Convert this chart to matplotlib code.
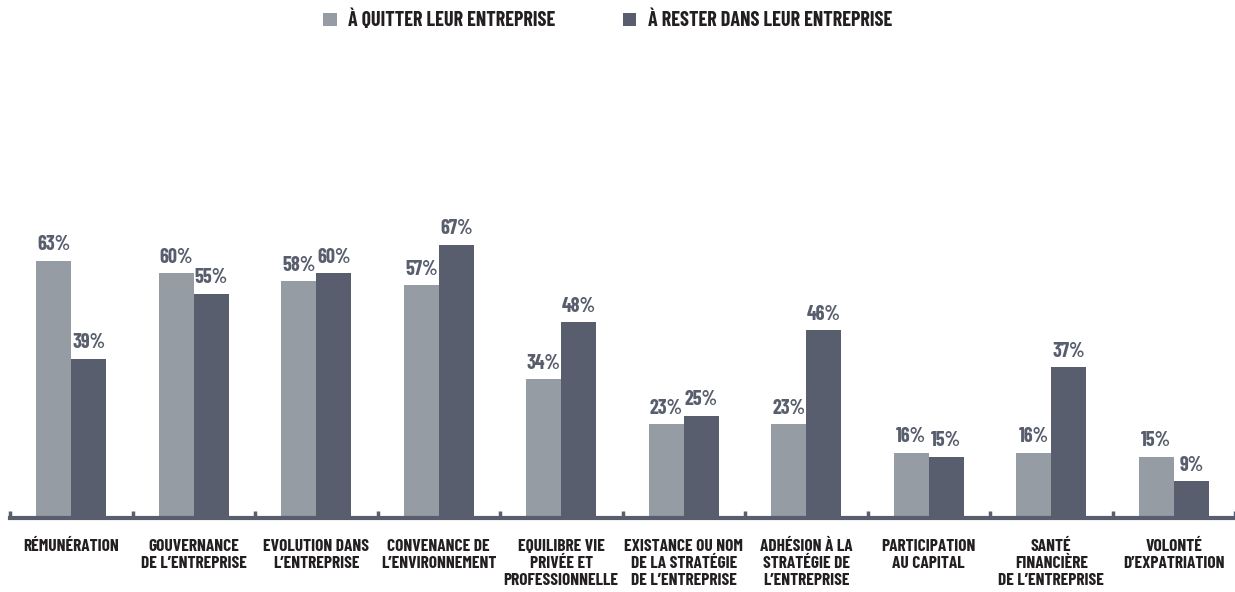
import numpy as np
import matplotlib.pyplot as plt

categories = [
    "RÉMUNÉRATION",
    "GOUVERNANCE\nDE L’ENTREPRISE",
    "EVOLUTION DANS\nL’ENTREPRISE",
    "CONVENANCE DE\nL’ENVIRONNEMENT",
    "EQUILIBRE VIE\nPRIVÉE ET\nPROFESSIONNELLE",
    "EXISTANCE OU NOM\nDE LA STRATÉGIE\nDE L’ENTREPRISE",
    "ADHÉSION À LA\nSTRATÉGIE DE\nL’ENTREPRISE",
    "PARTICIPATION\nAU CAPITAL",
    "SANTÉ\nFINANCIÈRE\nDE L’ENTREPRISE",
    "VOLONTÉ\nD’EXPATRIATION",
]
quitter = [63, 60, 58, 57, 34, 23, 23, 16, 16, 15]
rester = [39, 55, 60, 67, 48, 25, 46, 15, 37, 9]
series_names = ["À QUITTER LEUR ENTREPRISE", "À RESTER DANS LEUR ENTREPRISE"]

light = "#969ca3"
dark = "#585e6d"
ink = "#231f20"

# narrow bold type; DejaVu condensed as a fallback
plt.rcParams['font.family'] = ['Barlow Condensed', 'DejaVu Sans']
plt.rcParams['font.stretch'] = 'condensed'
plt.rcParams['font.weight'] = 'bold'

fig = plt.figure(figsize=(12.35, 5.92), dpi=100)
ax = fig.add_axes([10 / 1235, 74 / 592, 1225 / 1235, 408 / 592])

x = np.arange(len(categories))
w = 0.285
b1 = ax.bar(x - w / 2, quitter, w, color=light, label=series_names[0])
b2 = ax.bar(x + w / 2, rester, w, color=dark, label=series_names[1])

for bars, vals in ((b1, quitter), (b2, rester)):
    for rect, v in zip(bars, vals):
        ax.text(rect.get_x() + rect.get_width() / 2, v + 1.6, f"{v}%",
                ha='center', va='bottom', fontsize=14.5, color=dark)

ax.set_xlim(-0.5, len(categories) - 0.5)
ax.set_ylim(0, 100)

# labels at the centres, little upward ticks between groups
ax.set_xticks(x)
ax.set_xticklabels(categories, fontsize=12.5, color=ink, linespacing=1.15,
                   va='top')
ax.tick_params(axis='x', which='major', length=0, pad=15)
ax.set_xticks(np.arange(len(categories) + 1) - 0.5, minor=True)
ax.tick_params(axis='x', which='minor', direction='in', length=5, width=2.5,
               color=dark)
ax.set_yticks([])

for side in ('top', 'right', 'left'):
    ax.spines[side].set_visible(False)
ax.spines['bottom'].set_color(dark)
ax.spines['bottom'].set_linewidth(3)

fig.legend(handles=[b1, b2], labels=series_names, loc='upper center',
           bbox_to_anchor=(0.492, 1.014), ncol=2, frameon=False,
           handlelength=0.65, handleheight=0.65, handletextpad=0.55,
           columnspacing=3.4, prop={'size': 14.5, 'weight': 'bold'},
           labelcolor=ink)

fig.savefig("out.png", dpi=100)
